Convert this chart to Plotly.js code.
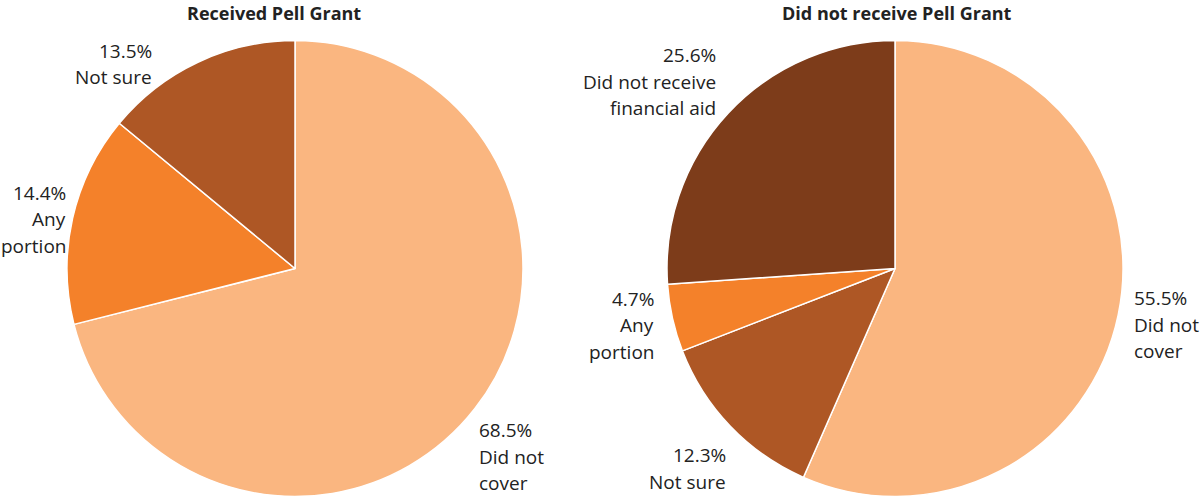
<!DOCTYPE html>
<html>
<head>
<meta charset="utf-8">
<script src="https://cdn.plot.ly/plotly-3.0.1.min.js"></script>
<style>html,body{margin:0;padding:0;background:#fff;}#chart{width:1200px;height:497px;}</style>
</head>
<body>
<div id="chart"></div>
<script>
// Received Pell Grant
const leftLabels = ["Did not|cover", "Any|portion", "Not sure"];
const leftValues = [68.5, 14.4, 13.5];
const leftColors = ["#FAB680", "#F4812A", "#AE5725"];
// Did not receive Pell Grant
const rightLabels = ["Did not|cover", "Not sure", "Any|portion", "Did not receive|financial aid"];
const rightValues = [55.5, 12.3, 4.7, 25.6];
const rightColors = ["#FAB680", "#AE5725", "#F4812A", "#7D3C1A"];
const titles = ["Received Pell Grant", "Did not receive Pell Grant"];

// ---- layout / style settings (not data) ----
const W = 1200, H = 497;
const FONT = "'Open Sans', Lato, sans-serif";
const TEXT_COLOR = "#222222";
const pies = [
  {cx: 295, cy: 268, r: 228, labels: leftLabels, values: leftValues, colors: leftColors,
   titleX: 274, nudge: [[1.4, 7], [-0.6, 4], [-13.3, -1]]},
  {cx: 895, cy: 268, r: 228, labels: rightLabels, values: rightValues, colors: rightColors,
   titleX: 897, nudge: [[1.6, 16], [-2.4, 13], [-0.9, 18], [-3.4, 2]]}
];
const LINE_H = 26.5;

const data = [];
const annotations = [];

pies.forEach((p, k) => {
  data.push({
    type: "pie",
    sort: false,
    direction: "clockwise",
    rotation: 0,
    values: p.values,
    labels: p.labels.map(s => s.replace("|", " ")),
    textinfo: "none",
    hoverinfo: "none",
    showlegend: false,
    marker: {colors: p.colors, line: {color: "#ffffff", width: 1.5}},
    domain: {x: [(p.cx - p.r) / W, (p.cx + p.r) / W], y: [1 - (p.cy + p.r + 1) / H, 1 - (p.cy - p.r) / H]}
  });

  annotations.push({
    text: "<b>" + titles[k] + "</b>", x: p.titleX / W, y: 1, xref: "paper", yref: "paper",
    xanchor: "center", yanchor: "top", yshift: 0, borderpad: 0, showarrow: false,
    font: {family: FONT, size: 18, color: TEXT_COLOR}
  });

  // data labels placed around each slice's mid angle
  const total = p.values.reduce((a, b) => a + b, 0);
  let cum = 0;
  p.values.forEach((v, i) => {
    const mid = (cum + v / 2) / total * 360;
    cum += v;
    const ang = (mid + p.nudge[i][0]) * Math.PI / 180;
    const rr = p.r + p.nudge[i][1];
    const sx = Math.sin(ang), cy = Math.cos(ang);
    const ax = p.cx + rr * sx;
    const ay = p.cy - rr * cy;
    const lines = [v.toFixed(1) + "%"].concat(p.labels[i].split("|"));
    const n = lines.length;
    let top;
    if (cy > 0.5) top = ay - n * LINE_H;
    else if (cy < -0.5) top = ay;
    else top = ay - n * LINE_H / 2;
    const right = sx > 0;
    lines.forEach((ln, j) => {
      annotations.push({
        text: ln, x: ax / W, y: 1 - (top + (j + 0.5) * LINE_H) / H,
        xref: "paper", yref: "paper",
        xanchor: right ? "left" : "right", yanchor: "middle",
        align: right ? "left" : "right", showarrow: false,
        font: {family: FONT, size: 19, color: TEXT_COLOR}
      });
    });
  });
});

const layout = {
  width: W,
  height: H,
  margin: {l: 0, r: 0, t: 0, b: 0},
  paper_bgcolor: "#ffffff",
  font: {family: FONT, size: 19, color: TEXT_COLOR},
  annotations: annotations
};

Plotly.newPlot("chart", data, layout, {displayModeBar: false, staticPlot: true});
</script>
</body>
</html>
